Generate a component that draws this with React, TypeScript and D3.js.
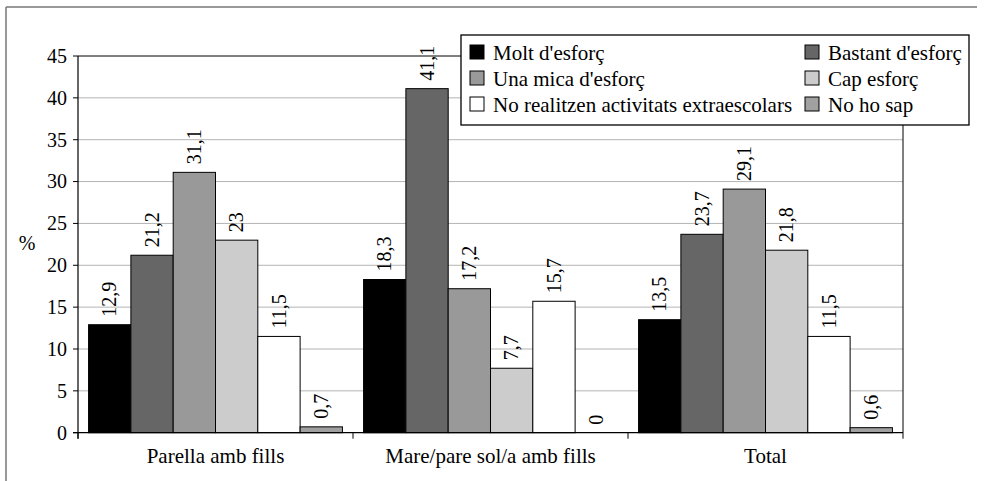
import React from "react";
import * as d3 from "d3";

const categories = ["Parella amb fills", "Mare/pare sol/a amb fills", "Total"];
const seriesNames = [
  "Molt d'esforç",
  "Bastant d'esforç",
  "Una mica d'esforç",
  "Cap esforç",
  "No realitzen activitats extraescolars",
  "No ho sap",
];
const seriesColors = ["#000000", "#666666", "#999999", "#cccccc", "#ffffff", "#a0a0a0"];
const parellaValues = [12.9, 21.2, 31.1, 23, 11.5, 0.7];
const mareValues = [18.3, 41.1, 17.2, 7.7, 15.7, 0];
const totalValues = [13.5, 23.7, 29.1, 21.8, 11.5, 0.6];
const yTicks = [0, 5, 10, 15, 20, 25, 30, 35, 40, 45];

const values = [parellaValues, mareValues, totalValues];

const W = 985;
const H = 481;
const left = 78;
const right = 903;
const top = 56;
const bottom = 432.7;
const FONT = "Liberation Serif";

const fmt = (v: number) => String(v).replace(".", ",");

export default function App() {
  const y = d3.scaleLinear().domain([0, 45]).range([bottom, top]);
  const x0 = d3.scaleBand<string>().domain(categories).range([left, right]).padding(0);
  const x1 = d3
    .scaleBand<string>()
    .domain(seriesNames)
    .range([0, x0.bandwidth()])
    .paddingInner(0)
    .paddingOuter(0.25);

  const legendRows = [
    [0, 1],
    [2, 3],
    [4, 5],
  ];
  const legendColX = [470, 805];
  const legendBase = [60, 86, 112];

  return (
    <svg width={W} height={H} fontFamily={FONT} style={{ position: "absolute", left: 0, top: 0, fontFamily: FONT }}>
      <rect x={0} y={0} width={W} height={H} fill="#fff" />
      {/* outer frame */}
      <line x1={6} y1={7} x2={977} y2={7} stroke="#777" strokeWidth={1.5} />
      <line x1={6} y1={7} x2={6} y2={H} stroke="#777" strokeWidth={1.5} />

      {/* gridlines */}
      {yTicks
        .filter((t) => t > 0 && t < 45)
        .map((t) => (
          <line key={"g" + t} x1={left} x2={right} y1={y(t)} y2={y(t)} stroke="#b4b4b4" strokeWidth={1} />
        ))}

      {/* bars */}
      {categories.map((c, ci) =>
        seriesNames.map((s, si) => {
          const v = values[ci][si];
          const bx = (x0(c) as number) + (x1(s) as number);
          const bw = x1.bandwidth();
          const by = y(v);
          return (
            <g key={c + s}>
              {v > 0 && (
                <rect x={bx} y={by} width={bw} height={bottom - by} fill={seriesColors[si]} stroke="#000" strokeWidth={1} />
              )}
              <text
                transform={`translate(${bx + bw / 2},${by - 8}) rotate(-90)`}
                dy="0.33em"
                fontFamily={FONT}
                fontSize={20}
                textAnchor="start"
                fill="#000"
              >
                {fmt(v)}
              </text>
            </g>
          );
        })
      )}

      {/* plot frame */}
      <line x1={left} x2={right} y1={top} y2={top} stroke="#000" strokeWidth={1} />
      <line x1={right} x2={right} y1={top} y2={bottom + 6} stroke="#000" strokeWidth={1} />
      <line x1={left} x2={left} y1={top} y2={bottom + 6} stroke="#000" strokeWidth={1.2} />
      <line x1={left - 5} x2={right} y1={bottom} y2={bottom} stroke="#000" strokeWidth={1.2} />

      {/* y ticks */}
      {yTicks.map((t) => (
        <g key={"t" + t}>
          <line x1={left - 5} x2={left} y1={y(t)} y2={y(t)} stroke="#000" />
          <text x={67} y={y(t)} dy="0.34em" textAnchor="end" fontFamily={FONT} fontSize={20}>
            {t}
          </text>
        </g>
      ))}

      {/* x ticks */}
      {categories.map((c) => (
        <line key={"xt" + c} x1={x0(c) as number} x2={x0(c) as number} y1={bottom} y2={bottom + 6} stroke="#000" />
      ))}

      {/* category labels */}
      {categories.map((c) => (
        <text
          key={"cl" + c}
          x={(x0(c) as number) + x0.bandwidth() / 2}
          y={463}
          textAnchor="middle"
          fontFamily={FONT}
          fontSize={21}
        >
          {c}
        </text>
      ))}

      <text x={27} y={250} textAnchor="middle" fontFamily={FONT} fontSize={20}>
        %
      </text>

      {/* legend */}
      <rect x={461} y={35} width={508} height={90} fill="#fff" stroke="#000" strokeWidth={1.3} />
      {legendRows.map((row, ri) =>
        row.map((si, ci) => (
          <g key={"lg" + si}>
            <rect
              x={legendColX[ci]}
              y={legendBase[ri] - 15}
              width={14}
              height={14}
              fill={seriesColors[si]}
              stroke="#000"
              strokeWidth={1}
            />
            <text x={legendColX[ci] + 23} y={legendBase[ri]} fontFamily={FONT} fontSize={21}>
              {seriesNames[si]}
            </text>
          </g>
        ))
      )}
    </svg>
  );
}
